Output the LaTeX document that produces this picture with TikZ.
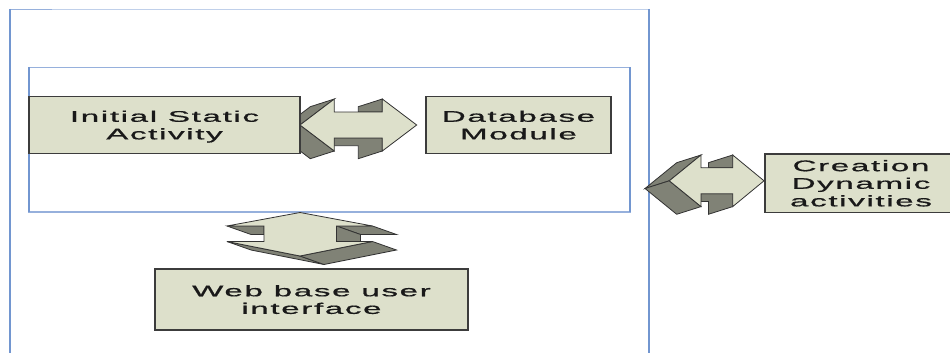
\documentclass[tikz,border=0pt]{standalone}
\usepackage{fontspec}
\newfontfamily\boxfont[LetterSpace=5,FakeBold=0.6]{Liberation Sans}
\newcommand\sx[1]{\scalebox{2.15}[1]{#1}}
\definecolor{boxfill}{RGB}{221,224,203}
\definecolor{sidefill}{RGB}{128,130,118}
\definecolor{edgecol}{RGB}{60,60,60}
\definecolor{frameblue}{RGB}{114,150,208}
\definecolor{framelight}{RGB}{192,208,234}
\definecolor{framemid}{RGB}{150,176,220}
\tikzset{
  box/.style={draw=edgecol, line width=1.2pt, fill=boxfill, inner sep=0pt, align=center,
    text=black!90, text depth=0pt, font=\boxfont\fontsize{15.4}{17.6}\selectfont},
  front/.style={fill=boxfill, draw=black!80, line width=0.8pt},
  side/.style={fill=sidefill, draw=black!80, line width=0.8pt},
}
% horizontal 3D double arrow: #1 left tip x, #2 left head base x, #3 right head base x,
% #4 right tip x, #5 centre y, #6 shaft half height, #7 head half height, #8 dx, #9 dy
\newcommand\hdarrow[9]{%
  \filldraw[side] ({#1},{#5}) -- ({#2},{#5-#7}) -- ({#2+#8},{#5-#7+#9}) -- ({#1+#8},{#5+#9}) -- cycle;
  \filldraw[side] ({#2},{#5+#7}) -- ({#1},{#5}) -- ({#1+#8},{#5+#9}) -- ({#2+#8},{#5+#7+#9}) -- cycle;
  \filldraw[side] ({#2},{#5+#6}) -- ({#3},{#5+#6}) -- ({#3},{#5+#7}) -- ({#3+#8},{#5+#7+#9})
     -- ({#3+#8},{#5+#6+#9}) -- ({#2},{#5+#6+#9}) -- cycle;
  \filldraw[side] ({#3+#8},{#5-#7+#9}) -- ({#3},{#5-#7}) -- ({#3},{#5-#6}) -- ({#3+#8},{#5-#6}) -- cycle;
  \filldraw[front] ({#1},{#5}) -- ({#2},{#5-#7}) -- ({#2},{#5-#6}) -- ({#3},{#5-#6}) -- ({#3},{#5-#7})
     -- ({#4},{#5}) -- ({#3},{#5+#7}) -- ({#3},{#5+#6}) -- ({#2},{#5+#6}) -- ({#2},{#5+#7}) -- cycle;
}
\begin{document}
\begin{tikzpicture}[x=1pt,y=-1pt]
\useasboundingbox (0,0) rectangle (950,353);
% outer frame
\draw[framelight, line width=1.5pt] (10,9.5) -- (649,9.5);
\draw[framemid, line width=1.5pt] (10,9.5) -- (52,9.5);
\draw[frameblue, line width=1.6pt] (9.7,8.8) -- (9.7,355);
\draw[frameblue, line width=2pt] (649,8.8) -- (649,355);
% inner frame
\draw[framemid, line width=1.2pt] (29,67.5) rectangle (630,212);
\draw[frameblue, line width=1.5pt] (29,67.5) -- (29,212);
\draw[frameblue, line width=1.5pt] (630,67.5) -- (630,212);
% 3D arrows
\hdarrow{300}{334.3}{382.3}{416.7}{125}{13}{26}{-24}{7.7}
\hdarrow{669.3}{701}{732.7}{764}{180.8}{13}{25.8}{-24.3}{7.7}
% vertical 3D double arrow
\filldraw[side] (227,226) -- (264,226) -- (264,234.5) -- (251,234.5) -- cycle;
\filldraw[side] (336.5,226) -- (372.5,226) -- (396.5,234.5) -- (360.5,234.5) -- cycle;
\filldraw[side] (336.5,226) -- (360.5,234.5) -- (360.5,250) -- (336.5,241.5) -- cycle;
\filldraw[side] (300,256) -- (227,241.5) -- (251,250) -- (324,264.5) -- cycle;
\filldraw[side] (372.5,241.5) -- (300,256) -- (324,264.5) -- (396.5,250) -- cycle;
\filldraw[front] (300,212.5) -- (372.5,226) -- (336.5,226) -- (336.5,241.5) -- (372.5,241.5)
  -- (300,256) -- (227,241.5) -- (264,241.5) -- (264,226) -- (227,226) -- cycle;
% boxes
\node[box, minimum width=271pt, minimum height=57pt] (init) at (164.5,125) {\sx{Initial Static}\\\sx{Activity}};
\node[box, minimum width=185pt, minimum height=57pt] (db) at (518.5,125) {\sx{Database}\\\sx{Module}};
\node[box, minimum width=192pt, minimum height=58.3pt] (dyn) at (861,183.2) {\sx{Creation}\\\sx{Dynamic}\\\sx{activities}};
\node[box, minimum width=313pt, minimum height=61pt] (web) at (311.5,299.5) {\sx{Web base user}\\\sx{interface}};
\end{tikzpicture}
\end{document}
